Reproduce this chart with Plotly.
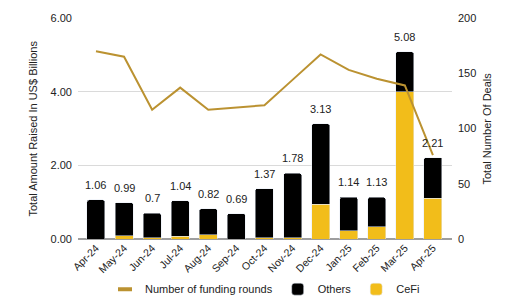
import plotly.graph_objects as go

months = ["Apr-24", "May-24", "Jun-24", "Jul-24", "Aug-24", "Sep-24", "Oct-24",
          "Nov-24", "Dec-24", "Jan-25", "Feb-25", "Mar-25", "Apr-25"]
totals = [1.06, 0.99, 0.7, 1.04, 0.82, 0.69, 1.37, 1.78, 3.13, 1.14, 1.13, 5.08, 2.21]
cefi = [0.0, 0.09, 0.03, 0.07, 0.12, 0.0, 0.03, 0.03, 0.95, 0.23, 0.33, 4.0, 1.11]
others = [round(t - c, 2) for t, c in zip(totals, cefi)]
deals = [170, 165, 117, 137, 117, 119, 121, 144, 167, 153, 145, 139, 76]

YELLOW = "#F2BD1A"
LINE = "#BB9231"
FONT = "Liberation Sans, Arial, sans-serif"
TXT = "#222222"

fig = go.Figure()
fig.add_trace(go.Bar(x=months, y=cefi, name="CeFi", marker_color=YELLOW,
                     width=0.64, legendrank=3))
fig.add_trace(go.Bar(x=months, y=others, name="Others", marker_color="#000000",
                     width=0.64, legendrank=2))
fig.add_trace(go.Scatter(x=months, y=deals, name="Number of funding rounds",
                         mode="lines", line=dict(color=LINE, width=2),
                         yaxis="y2", showlegend=False))
# legend proxy (short thick line)
fig.add_trace(go.Scatter(x=[None], y=[None], name="Number of funding rounds",
                         mode="markers", yaxis="y2", legendrank=1,
                         marker=dict(symbol="line-ew", size=10,
                                     line=dict(color=LINE, width=4))))

for m, t in zip(months, totals):
    fig.add_annotation(x=m, y=t, text=f"{t:g}", showarrow=False,
                       yshift=15, font=dict(size=11, color=TXT, family=FONT))

# axis titles
fig.add_annotation(xref="paper", yref="paper", x=0, y=0.5, xshift=-46,
                   text="Total Amount Raised In US$ Billions", textangle=-90,
                   showarrow=False, xanchor="center", yanchor="middle",
                   font=dict(size=11, color=TXT, family=FONT))
fig.add_annotation(xref="paper", yref="paper", x=1, y=0.5, xshift=34,
                   text="Total Number Of Deals", textangle=-90,
                   showarrow=False, xanchor="center", yanchor="middle",
                   font=dict(size=11, color=TXT, family=FONT))

fig.update_layout(
    width=522, height=305,
    margin=dict(l=78, r=70, t=18, b=66),
    barmode="stack",
    paper_bgcolor="white", plot_bgcolor="white",
    font=dict(family=FONT, size=11, color=TXT),
    barcornerradius=2,
    xaxis=dict(range=[-0.64, 12.68], tickangle=-45, showgrid=False,
               tickfont=dict(size=10.5, color=TXT), ticks="", automargin=False),
    yaxis=dict(range=[0, 6], tickvals=[0, 2, 4, 6], tickformat=".2f",
               showgrid=True, gridcolor="#DADADA", gridwidth=1,
               zeroline=True, zerolinecolor="#9E9E9E", zerolinewidth=1.5,
               ticks="", ticklabelstandoff=5, automargin=False),
    yaxis2=dict(range=[0, 200], tickvals=[0, 50, 100, 150, 200],
                overlaying="y", side="right", showgrid=False, zeroline=False,
                ticks="", ticklabelstandoff=5, automargin=False),
    legend=dict(orientation="h", x=0.5, xanchor="center", xref="paper",
                y=0.052, yanchor="middle", yref="container",
                font=dict(size=11, color=TXT), itemwidth=30,
                traceorder="normal"),
)

fig.write_html("out.html")
